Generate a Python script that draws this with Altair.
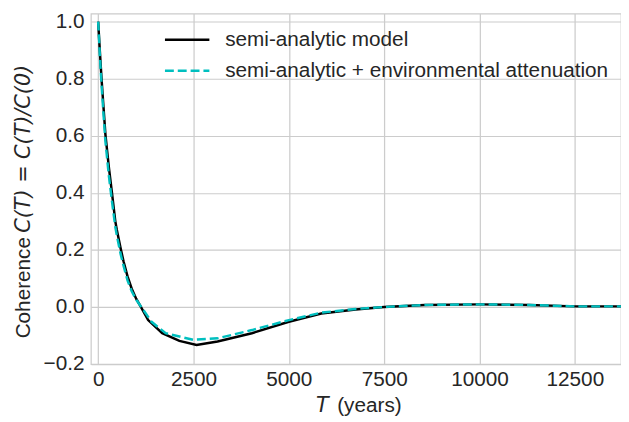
import altair as alt
import pandas as pd

# ---- data ----
T_model = [0, 45, 88, 140, 190, 280, 362, 450, 490, 590, 665, 770, 880, 1000, 1120, 1310,
           1680, 2130, 2580, 3130, 4030, 5000, 5850, 6750, 7500, 8570, 10000, 11300, 12500, 13800]
C_model = [1.0, 0.895, 0.8, 0.7, 0.605, 0.49, 0.4, 0.3, 0.27, 0.205, 0.16, 0.107, 0.064,
           0.028, 0.0, -0.046, -0.092, -0.119, -0.133, -0.121, -0.092, -0.052, -0.023,
           -0.009, 0.0, 0.007, 0.009, 0.007, 0.002, 0.002]

T_env = [0, 45, 88, 140, 190, 280, 362, 450, 490, 590, 665, 770, 880, 1000, 1130, 1400,
         1770, 2490, 3130, 4030, 5000, 5850, 6750, 7500, 8570, 10000, 11300, 12500, 13800]
C_env = [1.0, 0.88, 0.78, 0.675, 0.58, 0.46, 0.37, 0.28, 0.25, 0.185, 0.145, 0.093, 0.055,
         0.025, 0.0, -0.052, -0.092, -0.115, -0.11, -0.081, -0.046, -0.02, -0.007, 0.0,
         0.007, 0.009, 0.007, 0.002, 0.002]

legend_labels = ["semi-analytic model", "semi-analytic + environmental attenuation"]
x_ticks = [0, 2500, 5000, 7500, 10000, 12500]
y_ticks = [-0.2, 0.0, 0.2, 0.4, 0.6, 0.8, 1.0]
y_title_word = ["Coherence"]
y_title_math = ["C(T) = C(T)/C(0)"]
x_title_math = ["T"]
x_title_word = ["(years)"]

# ---- layout / style ----
W, H = 537, 355
FONT = "Liberation Sans"
MATHFONT = "DejaVu Sans"
TXT = "#262626"
GRID = "#cccccc"
FS = 21
CYAN = "#00bfbf"

xs = alt.Scale(domain=[-190, 13710], nice=False, zero=False)
ys = alt.Scale(domain=[-0.2, 1.028], nice=False, zero=False)

common_axis = dict(grid=True, gridColor=GRID, gridWidth=1.25, ticks=False, domain=False,
                   labelFont=FONT, labelFontSize=FS, labelColor=TXT, title=None,
                   labelOverlap=False)
xax = alt.Axis(values=x_ticks, format="d", labelPadding=5, labelFlush=False, **common_axis)
yax = alt.Axis(values=y_ticks, format=".1f", labelPadding=7, **common_axis)

df_model = pd.DataFrame({"T": T_model, "C": C_model})
df_env = pd.DataFrame({"T": T_env, "C": C_env})

model = alt.Chart(df_model).mark_line(color="black", strokeWidth=2.5, clip=True).encode(
    x=alt.X("T:Q", scale=xs, axis=xax),
    y=alt.Y("C:Q", scale=ys, axis=yax),
)
env = alt.Chart(df_env).mark_line(color=CYAN, strokeWidth=2.5, strokeDash=[9, 4], clip=True).encode(
    x=alt.X("T:Q", scale=xs),
    y=alt.Y("C:Q", scale=ys),
)

# manual legend
leg1 = pd.DataFrame({"label": [legend_labels[0]]})
leg2 = pd.DataFrame({"label": [legend_labels[1]]})
r1 = alt.Chart(leg1).mark_rule(color="black", strokeWidth=2.5).encode(
    x=alt.value(75), x2=alt.value(120), y=alt.value(26.5))
r2 = alt.Chart(leg2).mark_rule(color=CYAN, strokeWidth=2.5, strokeDash=[9, 4]).encode(
    x=alt.value(75), x2=alt.value(120), y=alt.value(58))
t1 = alt.Chart(leg1).mark_text(align="left", baseline="middle", font=FONT, fontSize=FS,
                                color=TXT).encode(x=alt.value(136), y=alt.value(27), text="label:N")
t2 = alt.Chart(leg2).mark_text(align="left", baseline="middle", font=FONT, fontSize=FS,
                                color=TXT).encode(x=alt.value(136), y=alt.value(58.5), text="label:N")

# axis titles (with italic math parts)
yt1 = alt.Chart(pd.DataFrame({"t": y_title_word})).mark_text(
    angle=270, align="left", baseline="middle", font=FONT, fontSize=FS, color=TXT
).encode(x=alt.value(-68), y=alt.value(329), text="t:N")
yt2 = alt.Chart(pd.DataFrame({"t": y_title_math})).mark_text(
    angle=270, align="left", baseline="middle", font=MATHFONT, fontStyle="italic",
    fontSize=FS, color=TXT
).encode(x=alt.value(-68), y=alt.value(222), text="t:N")
xt1 = alt.Chart(pd.DataFrame({"t": x_title_math})).mark_text(
    align="left", baseline="alphabetic", font=MATHFONT, fontStyle="italic", fontSize=FS, color=TXT
).encode(x=alt.value(228), y=alt.value(404), text="t:N")
xt2 = alt.Chart(pd.DataFrame({"t": x_title_word})).mark_text(
    align="left", baseline="alphabetic", font=FONT, fontSize=FS, color=TXT
).encode(x=alt.value(249.5), y=alt.value(404), text="t:N")

chart = alt.layer(model, env, r1, r2, t1, t2, yt1, yt2, xt1, xt2).properties(
    width=W, height=H,
    padding={"left": 84, "top": 3, "right": 0, "bottom": 52},
    autosize=alt.AutoSizeParams(type="none"),
    background="white",
).configure_view(stroke=GRID, strokeWidth=1.25)

chart.save("out.html", embed_options={"renderer": "svg", "actions": False})
